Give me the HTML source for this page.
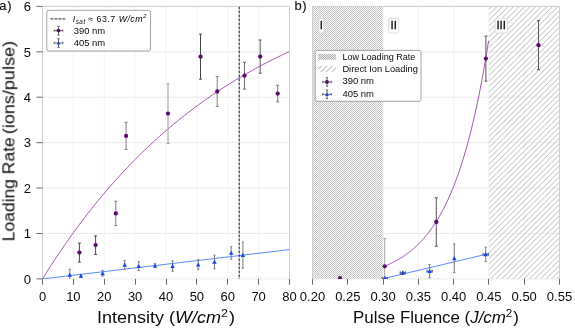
<!DOCTYPE html>
<html><head><meta charset="utf-8"><title>Loading rate</title>
<style>html,body{margin:0;padding:0;background:#fff;} body{width:575px;height:329px;overflow:hidden;} svg{display:block;} svg text{filter:url(#gs);}</style>
</head><body>
<svg width="575" height="329" viewBox="0 0 575 329">
<defs>
<filter id="gs" x="-5%" y="-20%" width="110%" height="140%"><feColorMatrix type="saturate" values="0"/></filter>
<pattern id="xh" patternUnits="userSpaceOnUse" width="2" height="2"><rect width="2" height="2" fill="#f8f8f8"/><rect width="1" height="1" fill="#c6c6c6"/><rect x="1" y="1" width="1" height="1" fill="#c6c6c6"/></pattern>
<pattern id="dh" patternUnits="userSpaceOnUse" width="5.54" height="5.54" x="-0.54" y="0"><path d="M-1,6.54 L6.54,-1 M-1,1 L1,-1 M4.54,6.54 L6.54,4.54" stroke="#a6a6a6" stroke-width="0.8" fill="none"/></pattern>
<pattern id="xh2" patternUnits="userSpaceOnUse" width="2" height="2"><rect width="2" height="2" fill="#eeeeee"/><rect width="1" height="1" fill="#ababab"/><rect x="1" y="1" width="1" height="1" fill="#ababab"/></pattern>
<pattern id="dh2" patternUnits="userSpaceOnUse" width="5.54" height="5.54" x="-0.54" y="0"><path d="M-1,6.54 L6.54,-1 M-1,1 L1,-1 M4.54,6.54 L6.54,4.54" stroke="#909090" stroke-width="0.85" fill="none"/></pattern>
<clipPath id="cl"><rect x="42.5" y="6.4" width="247.0" height="272.5"/></clipPath>
<clipPath id="cr"><rect x="312.5" y="6.4" width="247.0" height="272.5"/></clipPath>
</defs>
<rect width="575" height="329" fill="#ffffff"/>
<line x1="42.50" y1="6.4" x2="42.50" y2="278.9" stroke="#f3f3f3" stroke-width="1"/>
<line x1="73.38" y1="6.4" x2="73.38" y2="278.9" stroke="#f3f3f3" stroke-width="1"/>
<line x1="104.25" y1="6.4" x2="104.25" y2="278.9" stroke="#f3f3f3" stroke-width="1"/>
<line x1="135.12" y1="6.4" x2="135.12" y2="278.9" stroke="#f3f3f3" stroke-width="1"/>
<line x1="166.00" y1="6.4" x2="166.00" y2="278.9" stroke="#f3f3f3" stroke-width="1"/>
<line x1="196.88" y1="6.4" x2="196.88" y2="278.9" stroke="#f3f3f3" stroke-width="1"/>
<line x1="227.75" y1="6.4" x2="227.75" y2="278.9" stroke="#f3f3f3" stroke-width="1"/>
<line x1="258.62" y1="6.4" x2="258.62" y2="278.9" stroke="#f3f3f3" stroke-width="1"/>
<line x1="289.50" y1="6.4" x2="289.50" y2="278.9" stroke="#f3f3f3" stroke-width="1"/>
<line x1="42.5" y1="278.90" x2="289.5" y2="278.90" stroke="#ececec" stroke-width="1"/>
<line x1="42.5" y1="233.48" x2="289.5" y2="233.48" stroke="#ececec" stroke-width="1"/>
<line x1="42.5" y1="188.07" x2="289.5" y2="188.07" stroke="#ececec" stroke-width="1"/>
<line x1="42.5" y1="142.65" x2="289.5" y2="142.65" stroke="#ececec" stroke-width="1"/>
<line x1="42.5" y1="97.23" x2="289.5" y2="97.23" stroke="#ececec" stroke-width="1"/>
<line x1="42.5" y1="51.82" x2="289.5" y2="51.82" stroke="#ececec" stroke-width="1"/>
<line x1="42.5" y1="6.40" x2="289.5" y2="6.40" stroke="#ececec" stroke-width="1"/>
<g stroke="#ececec" stroke-width="1"><line x1="312.50" y1="6.4" x2="312.50" y2="278.9" stroke="#f3f3f3"/><line x1="347.79" y1="6.4" x2="347.79" y2="278.9" stroke="#f3f3f3"/><line x1="383.07" y1="6.4" x2="383.07" y2="278.9" stroke="#f3f3f3"/><line x1="418.36" y1="6.4" x2="418.36" y2="278.9" stroke="#f3f3f3"/><line x1="453.64" y1="6.4" x2="453.64" y2="278.9" stroke="#f3f3f3"/><line x1="488.93" y1="6.4" x2="488.93" y2="278.9" stroke="#f3f3f3"/><line x1="524.21" y1="6.4" x2="524.21" y2="278.9" stroke="#f3f3f3"/><line x1="559.50" y1="6.4" x2="559.50" y2="278.9" stroke="#f3f3f3"/><line x1="312.5" y1="278.90" x2="559.5" y2="278.90"/><line x1="312.5" y1="233.48" x2="559.5" y2="233.48"/><line x1="312.5" y1="188.07" x2="559.5" y2="188.07"/><line x1="312.5" y1="142.65" x2="559.5" y2="142.65"/><line x1="312.5" y1="97.23" x2="559.5" y2="97.23"/><line x1="312.5" y1="51.82" x2="559.5" y2="51.82"/><line x1="312.5" y1="6.40" x2="559.5" y2="6.40"/></g>
<rect x="312.50" y="6.4" width="70.57" height="272.50" fill="url(#xh)"/>
<rect x="488.93" y="6.4" width="70.57" height="272.50" fill="url(#dh)"/>
<g stroke="#ececec" stroke-width="1" opacity="0.35"><line x1="312.50" y1="6.4" x2="312.50" y2="278.9" stroke="#f3f3f3"/><line x1="347.79" y1="6.4" x2="347.79" y2="278.9" stroke="#f3f3f3"/><line x1="383.07" y1="6.4" x2="383.07" y2="278.9" stroke="#f3f3f3"/><line x1="418.36" y1="6.4" x2="418.36" y2="278.9" stroke="#f3f3f3"/><line x1="453.64" y1="6.4" x2="453.64" y2="278.9" stroke="#f3f3f3"/><line x1="488.93" y1="6.4" x2="488.93" y2="278.9" stroke="#f3f3f3"/><line x1="524.21" y1="6.4" x2="524.21" y2="278.9" stroke="#f3f3f3"/><line x1="559.50" y1="6.4" x2="559.50" y2="278.9" stroke="#f3f3f3"/><line x1="312.5" y1="278.90" x2="559.5" y2="278.90"/><line x1="312.5" y1="233.48" x2="559.5" y2="233.48"/><line x1="312.5" y1="188.07" x2="559.5" y2="188.07"/><line x1="312.5" y1="142.65" x2="559.5" y2="142.65"/><line x1="312.5" y1="97.23" x2="559.5" y2="97.23"/><line x1="312.5" y1="51.82" x2="559.5" y2="51.82"/><line x1="312.5" y1="6.40" x2="559.5" y2="6.40"/></g>
<path d="M42.5,278.9 L42.5,6.4 L289.5,6.4 L289.5,278.9" fill="none" stroke="#cfcfcf" stroke-width="1"/>
<path d="M312.5,278.9 L312.5,6.4 L559.5,6.4 L559.5,278.9" fill="none" stroke="#cfcfcf" stroke-width="1"/>
<line x1="42.50" y1="278.9" x2="42.50" y2="284.7" stroke="#6a6a6a" stroke-width="1"/>
<line x1="73.50" y1="278.9" x2="73.50" y2="284.7" stroke="#6a6a6a" stroke-width="1"/>
<line x1="104.50" y1="278.9" x2="104.50" y2="284.7" stroke="#6a6a6a" stroke-width="1"/>
<line x1="135.50" y1="278.9" x2="135.50" y2="284.7" stroke="#6a6a6a" stroke-width="1"/>
<line x1="166.50" y1="278.9" x2="166.50" y2="284.7" stroke="#6a6a6a" stroke-width="1"/>
<line x1="196.50" y1="278.9" x2="196.50" y2="284.7" stroke="#6a6a6a" stroke-width="1"/>
<line x1="227.50" y1="278.9" x2="227.50" y2="284.7" stroke="#6a6a6a" stroke-width="1"/>
<line x1="258.50" y1="278.9" x2="258.50" y2="284.7" stroke="#6a6a6a" stroke-width="1"/>
<line x1="289.50" y1="278.9" x2="289.50" y2="284.7" stroke="#6a6a6a" stroke-width="1"/>
<line x1="312.50" y1="278.9" x2="312.50" y2="284.7" stroke="#6a6a6a" stroke-width="1"/>
<line x1="347.50" y1="278.9" x2="347.50" y2="284.7" stroke="#6a6a6a" stroke-width="1"/>
<line x1="383.50" y1="278.9" x2="383.50" y2="284.7" stroke="#6a6a6a" stroke-width="1"/>
<line x1="418.50" y1="278.9" x2="418.50" y2="284.7" stroke="#6a6a6a" stroke-width="1"/>
<line x1="453.50" y1="278.9" x2="453.50" y2="284.7" stroke="#6a6a6a" stroke-width="1"/>
<line x1="488.50" y1="278.9" x2="488.50" y2="284.7" stroke="#6a6a6a" stroke-width="1"/>
<line x1="524.50" y1="278.9" x2="524.50" y2="284.7" stroke="#6a6a6a" stroke-width="1"/>
<line x1="559.50" y1="278.9" x2="559.50" y2="284.7" stroke="#6a6a6a" stroke-width="1"/>
<line x1="36.5" y1="278.90" x2="42.5" y2="278.90" stroke="#6a6a6a" stroke-width="1"/>
<line x1="36.5" y1="233.48" x2="42.5" y2="233.48" stroke="#6a6a6a" stroke-width="1"/>
<line x1="36.5" y1="188.07" x2="42.5" y2="188.07" stroke="#6a6a6a" stroke-width="1"/>
<line x1="36.5" y1="142.65" x2="42.5" y2="142.65" stroke="#6a6a6a" stroke-width="1"/>
<line x1="36.5" y1="97.23" x2="42.5" y2="97.23" stroke="#6a6a6a" stroke-width="1"/>
<line x1="36.5" y1="51.82" x2="42.5" y2="51.82" stroke="#6a6a6a" stroke-width="1"/>
<line x1="36.5" y1="6.40" x2="42.5" y2="6.40" stroke="#6a6a6a" stroke-width="1"/>
<g font-family='"Liberation Sans", sans-serif' font-size="13" fill="#0a0a0a" text-anchor="middle">
<text x="42.50" y="300.8">0</text>
<text x="73.38" y="300.8">10</text>
<text x="104.25" y="300.8">20</text>
<text x="135.12" y="300.8">30</text>
<text x="166.00" y="300.8">40</text>
<text x="196.88" y="300.8">50</text>
<text x="227.75" y="300.8">60</text>
<text x="258.62" y="300.8">70</text>
<text x="289.50" y="300.8">80</text>
<text x="312.50" y="300.8">0.20</text>
<text x="347.79" y="300.8">0.25</text>
<text x="383.07" y="300.8">0.30</text>
<text x="418.36" y="300.8">0.35</text>
<text x="453.64" y="300.8">0.40</text>
<text x="488.93" y="300.8">0.45</text>
<text x="524.21" y="300.8">0.50</text>
<text x="559.50" y="300.8">0.55</text>
</g>
<g font-family='"Liberation Sans", sans-serif' font-size="13" fill="#0a0a0a" text-anchor="end">
<text x="31" y="283.60">0</text>
<text x="31" y="238.18">1</text>
<text x="31" y="192.77">2</text>
<text x="31" y="147.35">3</text>
<text x="31" y="101.93">4</text>
<text x="31" y="56.52">5</text>
<text x="31" y="11.10">6</text>
</g>
<text x="166.00" y="322.8" font-family='"Liberation Sans", sans-serif' font-size="16" fill="#0a0a0a" text-anchor="middle" textLength="138.2" lengthAdjust="spacingAndGlyphs">Intensity (<tspan font-style="italic">W/cm</tspan><tspan font-size="11" dy="-6">2</tspan><tspan dy="6" dx="1">)</tspan></text>
<text x="436.00" y="322.8" font-family='"Liberation Sans", sans-serif' font-size="16" fill="#0a0a0a" text-anchor="middle" textLength="166" lengthAdjust="spacingAndGlyphs">Pulse Fluence (<tspan font-style="italic">J/cm</tspan><tspan font-size="11" dy="-6">2</tspan><tspan dy="6" dx="1">)</tspan></text>
<text transform="translate(14.4,241.3) rotate(-90)" font-family='"Liberation Sans", sans-serif' font-size="16" fill="#0a0a0a" textLength="104.0" lengthAdjust="spacingAndGlyphs">Loading Rate</text>
<text transform="translate(14.4,134.2) rotate(-90)" font-family='"Liberation Sans", sans-serif' font-size="16" fill="#0a0a0a" textLength="93.2" lengthAdjust="spacingAndGlyphs">(ions/pulse)</text>
<text x="-0.8" y="9.5" font-family='"Liberation Sans", sans-serif' font-size="13" fill="#0a0a0a" stroke="#0a0a0a" stroke-width="0.12" letter-spacing="0.7">a)</text>
<text x="294.4" y="9.7" font-family='"Liberation Sans", sans-serif' font-size="13" fill="#0a0a0a" stroke="#0a0a0a" stroke-width="0.12" letter-spacing="0.7">b)</text>
<g clip-path="url(#cl)">
<line x1="42.5" y1="278.9" x2="289.5" y2="249.6" stroke="#5284ff" stroke-width="0.95"/>
<polyline points="42.50,278.90 44.04,276.41 45.59,273.95 47.13,271.50 48.67,269.07 50.22,266.66 51.76,264.27 53.31,261.90 54.85,259.55 56.39,257.22 57.94,254.90 59.48,252.60 61.02,250.32 62.57,248.06 64.11,245.82 65.66,243.59 67.20,241.38 68.74,239.19 70.29,237.01 71.83,234.85 73.38,232.71 74.92,230.59 76.46,228.48 78.01,226.39 79.55,224.31 81.09,222.25 82.64,220.21 84.18,218.18 85.72,216.17 87.27,214.18 88.81,212.20 90.36,210.23 91.90,208.29 93.44,206.35 94.99,204.43 96.53,202.53 98.08,200.64 99.62,198.77 101.16,196.91 102.71,195.06 104.25,193.23 105.79,191.42 107.34,189.62 108.88,187.83 110.42,186.06 111.97,184.30 113.51,182.55 115.06,180.82 116.60,179.10 118.14,177.39 119.69,175.70 121.23,174.02 122.78,172.36 124.32,170.70 125.86,169.06 127.41,167.44 128.95,165.82 130.49,164.22 132.04,162.63 133.58,161.06 135.12,159.49 136.67,157.94 138.21,156.40 139.76,154.87 141.30,153.36 142.84,151.85 144.39,150.36 145.93,148.88 147.47,147.41 149.02,145.95 150.56,144.51 152.11,143.07 153.65,141.65 155.19,140.24 156.74,138.83 158.28,137.44 159.82,136.06 161.37,134.69 162.91,133.34 164.46,131.99 166.00,130.65 167.54,129.33 169.09,128.01 170.63,126.70 172.18,125.41 173.72,124.12 175.26,122.85 176.81,121.58 178.35,120.33 179.89,119.08 181.44,117.84 182.98,116.62 184.53,115.40 186.07,114.19 187.61,112.99 189.16,111.81 190.70,110.63 192.24,109.46 193.79,108.30 195.33,107.14 196.88,106.00 198.42,104.87 199.96,103.74 201.51,102.63 203.05,101.52 204.59,100.42 206.14,99.33 207.68,98.25 209.22,97.18 210.77,96.11 212.31,95.05 213.86,94.01 215.40,92.97 216.94,91.93 218.49,90.91 220.03,89.89 221.57,88.89 223.12,87.89 224.66,86.89 226.21,85.91 227.75,84.93 229.29,83.96 230.84,83.00 232.38,82.05 233.93,81.10 235.47,80.16 237.01,79.23 238.56,78.31 240.10,77.39 241.64,76.48 243.19,75.58 244.73,74.68 246.28,73.79 247.82,72.91 249.36,72.03 250.91,71.17 252.45,70.30 253.99,69.45 255.54,68.60 257.08,67.76 258.62,66.92 260.17,66.10 261.71,65.27 263.26,64.46 264.80,63.65 266.34,62.85 267.89,62.05 269.43,61.26 270.98,60.48 272.52,59.70 274.06,58.93 275.61,58.16 277.15,57.40 278.69,56.65 280.24,55.90 281.78,55.16 283.32,54.42 284.87,53.69 286.41,52.97 287.96,52.25 289.50,51.53" fill="none" stroke="#983fae" stroke-width="0.9"/>
<line x1="239.2" y1="6.4" x2="239.2" y2="278.9" stroke="#222" stroke-width="1.1" stroke-dasharray="2.9,1.1"/>
</g>
<g clip-path="url(#cl)">
<line x1="79.40" y1="243.10" x2="79.40" y2="262.10" stroke="#4a4a4a" stroke-width="1.0"/><line x1="77.90" y1="243.10" x2="80.90" y2="243.10" stroke="#4a4a4a" stroke-width="1.0"/><line x1="77.90" y1="262.10" x2="80.90" y2="262.10" stroke="#4a4a4a" stroke-width="1.0"/>
<line x1="95.60" y1="235.80" x2="95.60" y2="254.40" stroke="#4a4a4a" stroke-width="1.0"/><line x1="94.10" y1="235.80" x2="97.10" y2="235.80" stroke="#4a4a4a" stroke-width="1.0"/><line x1="94.10" y1="254.40" x2="97.10" y2="254.40" stroke="#4a4a4a" stroke-width="1.0"/>
<line x1="115.80" y1="201.20" x2="115.80" y2="225.60" stroke="#808080" stroke-width="1.0"/><line x1="114.30" y1="201.20" x2="117.30" y2="201.20" stroke="#808080" stroke-width="1.0"/><line x1="114.30" y1="225.60" x2="117.30" y2="225.60" stroke="#808080" stroke-width="1.0"/>
<line x1="126.10" y1="122.30" x2="126.10" y2="149.50" stroke="#808080" stroke-width="1.0"/><line x1="124.60" y1="122.30" x2="127.60" y2="122.30" stroke="#808080" stroke-width="1.0"/><line x1="124.60" y1="149.50" x2="127.60" y2="149.50" stroke="#808080" stroke-width="1.0"/>
<line x1="168.00" y1="83.80" x2="168.00" y2="143.40" stroke="#9a9a9a" stroke-width="1.0"/><line x1="166.50" y1="83.80" x2="169.50" y2="83.80" stroke="#9a9a9a" stroke-width="1.0"/><line x1="166.50" y1="143.40" x2="169.50" y2="143.40" stroke="#9a9a9a" stroke-width="1.0"/>
<line x1="200.50" y1="34.20" x2="200.50" y2="79.20" stroke="#474747" stroke-width="1.0"/><line x1="199.00" y1="34.20" x2="202.00" y2="34.20" stroke="#474747" stroke-width="1.0"/><line x1="199.00" y1="79.20" x2="202.00" y2="79.20" stroke="#474747" stroke-width="1.0"/>
<line x1="217.20" y1="76.60" x2="217.20" y2="106.40" stroke="#808080" stroke-width="1.0"/><line x1="215.70" y1="76.60" x2="218.70" y2="76.60" stroke="#808080" stroke-width="1.0"/><line x1="215.70" y1="106.40" x2="218.70" y2="106.40" stroke="#808080" stroke-width="1.0"/>
<line x1="244.50" y1="62.30" x2="244.50" y2="89.10" stroke="#6a6a6a" stroke-width="1.0"/><line x1="243.00" y1="62.30" x2="246.00" y2="62.30" stroke="#6a6a6a" stroke-width="1.0"/><line x1="243.00" y1="89.10" x2="246.00" y2="89.10" stroke="#6a6a6a" stroke-width="1.0"/>
<line x1="260.20" y1="40.00" x2="260.20" y2="73.20" stroke="#5a5a5a" stroke-width="1.0"/><line x1="258.70" y1="40.00" x2="261.70" y2="40.00" stroke="#5a5a5a" stroke-width="1.0"/><line x1="258.70" y1="73.20" x2="261.70" y2="73.20" stroke="#5a5a5a" stroke-width="1.0"/>
<line x1="277.70" y1="85.30" x2="277.70" y2="101.90" stroke="#787878" stroke-width="1.0"/><line x1="276.20" y1="85.30" x2="279.20" y2="85.30" stroke="#787878" stroke-width="1.0"/><line x1="276.20" y1="101.90" x2="279.20" y2="101.90" stroke="#787878" stroke-width="1.0"/>
<line x1="69.80" y1="269.30" x2="69.80" y2="280.50" stroke="#7c7c7c" stroke-width="1.0"/><line x1="68.70" y1="269.30" x2="70.90" y2="269.30" stroke="#7c7c7c" stroke-width="1.0"/><line x1="68.70" y1="280.50" x2="70.90" y2="280.50" stroke="#7c7c7c" stroke-width="1.0"/>
<line x1="80.90" y1="274.40" x2="80.90" y2="277.40" stroke="#7c7c7c" stroke-width="1.0"/><line x1="79.80" y1="274.40" x2="82.00" y2="274.40" stroke="#7c7c7c" stroke-width="1.0"/><line x1="79.80" y1="277.40" x2="82.00" y2="277.40" stroke="#7c7c7c" stroke-width="1.0"/>
<line x1="102.60" y1="270.60" x2="102.60" y2="276.20" stroke="#7c7c7c" stroke-width="1.0"/><line x1="101.50" y1="270.60" x2="103.70" y2="270.60" stroke="#7c7c7c" stroke-width="1.0"/><line x1="101.50" y1="276.20" x2="103.70" y2="276.20" stroke="#7c7c7c" stroke-width="1.0"/>
<line x1="124.70" y1="260.40" x2="124.70" y2="269.40" stroke="#7c7c7c" stroke-width="1.0"/><line x1="123.60" y1="260.40" x2="125.80" y2="260.40" stroke="#7c7c7c" stroke-width="1.0"/><line x1="123.60" y1="269.40" x2="125.80" y2="269.40" stroke="#7c7c7c" stroke-width="1.0"/>
<line x1="138.70" y1="261.70" x2="138.70" y2="270.50" stroke="#7c7c7c" stroke-width="1.0"/><line x1="137.60" y1="261.70" x2="139.80" y2="261.70" stroke="#7c7c7c" stroke-width="1.0"/><line x1="137.60" y1="270.50" x2="139.80" y2="270.50" stroke="#7c7c7c" stroke-width="1.0"/>
<line x1="155.00" y1="263.70" x2="155.00" y2="267.70" stroke="#7c7c7c" stroke-width="1.0"/><line x1="153.90" y1="263.70" x2="156.10" y2="263.70" stroke="#7c7c7c" stroke-width="1.0"/><line x1="153.90" y1="267.70" x2="156.10" y2="267.70" stroke="#7c7c7c" stroke-width="1.0"/>
<line x1="172.60" y1="260.90" x2="172.60" y2="271.30" stroke="#7c7c7c" stroke-width="1.0"/><line x1="171.50" y1="260.90" x2="173.70" y2="260.90" stroke="#7c7c7c" stroke-width="1.0"/><line x1="171.50" y1="271.30" x2="173.70" y2="271.30" stroke="#7c7c7c" stroke-width="1.0"/>
<line x1="198.20" y1="259.80" x2="198.20" y2="269.60" stroke="#7c7c7c" stroke-width="1.0"/><line x1="197.10" y1="259.80" x2="199.30" y2="259.80" stroke="#7c7c7c" stroke-width="1.0"/><line x1="197.10" y1="269.60" x2="199.30" y2="269.60" stroke="#7c7c7c" stroke-width="1.0"/>
<line x1="214.50" y1="255.10" x2="214.50" y2="268.70" stroke="#7c7c7c" stroke-width="1.0"/><line x1="213.40" y1="255.10" x2="215.60" y2="255.10" stroke="#7c7c7c" stroke-width="1.0"/><line x1="213.40" y1="268.70" x2="215.60" y2="268.70" stroke="#7c7c7c" stroke-width="1.0"/>
<line x1="231.20" y1="246.80" x2="231.20" y2="259.20" stroke="#7c7c7c" stroke-width="1.0"/><line x1="230.10" y1="246.80" x2="232.30" y2="246.80" stroke="#7c7c7c" stroke-width="1.0"/><line x1="230.10" y1="259.20" x2="232.30" y2="259.20" stroke="#7c7c7c" stroke-width="1.0"/>
<line x1="242.90" y1="242.10" x2="242.90" y2="268.10" stroke="#7c7c7c" stroke-width="1.0"/><line x1="241.80" y1="242.10" x2="244.00" y2="242.10" stroke="#7c7c7c" stroke-width="1.0"/><line x1="241.80" y1="268.10" x2="244.00" y2="268.10" stroke="#7c7c7c" stroke-width="1.0"/>
<circle cx="79.40" cy="252.60" r="2.15" fill="#5b0a6e"/>
<circle cx="95.60" cy="245.10" r="2.15" fill="#5b0a6e"/>
<circle cx="115.80" cy="213.40" r="2.15" fill="#5b0a6e"/>
<circle cx="126.10" cy="135.90" r="2.15" fill="#5b0a6e"/>
<circle cx="168.00" cy="113.60" r="2.15" fill="#5b0a6e"/>
<circle cx="200.50" cy="56.70" r="2.15" fill="#5b0a6e"/>
<circle cx="217.20" cy="91.50" r="2.15" fill="#5b0a6e"/>
<circle cx="244.50" cy="75.70" r="2.15" fill="#5b0a6e"/>
<circle cx="260.20" cy="56.60" r="2.15" fill="#5b0a6e"/>
<circle cx="277.70" cy="93.60" r="2.15" fill="#5b0a6e"/>
<path d="M69.80,272.60 L71.98,276.74 L67.61,276.74 Z" fill="#1444f0"/>
<path d="M80.90,273.60 L83.09,277.74 L78.72,277.74 Z" fill="#1444f0"/>
<path d="M102.60,271.10 L104.78,275.24 L100.41,275.24 Z" fill="#1444f0"/>
<path d="M124.70,262.60 L126.89,266.74 L122.52,266.74 Z" fill="#1444f0"/>
<path d="M138.70,263.80 L140.88,267.94 L136.51,267.94 Z" fill="#1444f0"/>
<path d="M155.00,263.40 L157.19,267.54 L152.81,267.54 Z" fill="#1444f0"/>
<path d="M172.60,263.80 L174.78,267.94 L170.41,267.94 Z" fill="#1444f0"/>
<path d="M198.20,262.40 L200.38,266.54 L196.01,266.54 Z" fill="#1444f0"/>
<path d="M214.50,259.60 L216.69,263.74 L212.31,263.74 Z" fill="#1444f0"/>
<path d="M231.20,250.70 L233.38,254.84 L229.01,254.84 Z" fill="#1444f0"/>
<path d="M242.90,252.80 L245.09,256.94 L240.72,256.94 Z" fill="#1444f0"/>
</g>
<g clip-path="url(#cr)">
<line x1="384.8" y1="278.3" x2="488.93" y2="253.6" stroke="#5284ff" stroke-width="0.95"/>
<polyline points="384.70,266.15 385.57,265.79 386.43,265.43 387.30,265.06 388.16,264.68 389.03,264.29 389.89,263.90 390.76,263.49 391.63,263.08 392.49,262.65 393.36,262.22 394.22,261.77 395.09,261.31 395.96,260.85 396.82,260.37 397.69,259.88 398.55,259.38 399.42,258.87 400.28,258.35 401.15,257.82 402.02,257.27 402.88,256.71 403.75,256.13 404.61,255.55 405.48,254.95 406.35,254.33 407.21,253.70 408.08,253.06 408.94,252.40 409.81,251.73 410.68,251.04 411.54,250.33 412.41,249.61 413.27,248.87 414.14,248.12 415.00,247.34 415.87,246.55 416.74,245.74 417.60,244.91 418.47,244.07 419.33,243.20 420.20,242.31 421.06,241.40 421.93,240.47 422.80,239.52 423.66,238.55 424.53,237.55 425.39,236.53 426.26,235.49 427.13,234.42 427.99,233.33 428.86,232.21 429.72,231.07 430.59,229.90 431.45,228.70 432.32,227.47 433.19,226.22 434.05,224.93 434.92,223.62 435.78,222.28 436.65,220.90 437.52,219.49 438.38,218.05 439.25,216.58 440.11,215.07 440.98,213.53 441.85,211.95 442.71,210.33 443.58,208.68 444.44,206.99 445.31,205.26 446.17,203.49 447.04,201.67 447.91,199.82 448.77,197.92 449.64,195.98 450.50,193.99 451.37,191.95 452.24,189.87 453.10,187.74 453.97,185.56 454.83,183.33 455.70,181.05 456.56,178.71 457.43,176.32 458.30,173.88 459.16,171.38 460.03,168.82 460.89,166.20 461.76,163.51 462.62,160.77 463.49,157.96 464.36,155.09 465.22,152.15 466.09,149.14 466.95,146.06 467.82,142.91 468.69,139.69 469.55,136.39 470.42,133.01 471.28,129.56 472.15,126.02 473.01,122.41 473.88,118.70 474.75,114.92 475.61,111.04 476.48,107.08 477.34,103.02 478.21,98.86 479.08,94.61 479.94,90.27 480.81,85.82 481.67,81.26 482.54,76.60 483.41,71.83 484.27,66.95 485.14,61.96 486.00,56.85 486.87,51.62 487.73,46.27 488.60,40.80" fill="none" stroke="#983fae" stroke-width="0.9"/>
<line x1="340.10" y1="276.60" x2="340.10" y2="280.60" stroke="#575757" stroke-width="1.0"/><line x1="338.60" y1="276.60" x2="341.60" y2="276.60" stroke="#575757" stroke-width="1.0"/><line x1="338.60" y1="280.60" x2="341.60" y2="280.60" stroke="#575757" stroke-width="1.0"/>
<line x1="384.70" y1="238.50" x2="384.70" y2="294.10" stroke="#a8a8a8" stroke-width="1.0"/><line x1="383.20" y1="238.50" x2="386.20" y2="238.50" stroke="#a8a8a8" stroke-width="1.0"/><line x1="383.20" y1="294.10" x2="386.20" y2="294.10" stroke="#a8a8a8" stroke-width="1.0"/>
<line x1="436.30" y1="197.80" x2="436.30" y2="246.20" stroke="#575757" stroke-width="1.0"/><line x1="434.80" y1="197.80" x2="437.80" y2="197.80" stroke="#575757" stroke-width="1.0"/><line x1="434.80" y1="246.20" x2="437.80" y2="246.20" stroke="#575757" stroke-width="1.0"/>
<line x1="485.90" y1="36.10" x2="485.90" y2="81.10" stroke="#575757" stroke-width="1.0"/><line x1="484.40" y1="36.10" x2="487.40" y2="36.10" stroke="#575757" stroke-width="1.0"/><line x1="484.40" y1="81.10" x2="487.40" y2="81.10" stroke="#575757" stroke-width="1.0"/>
<line x1="538.50" y1="20.70" x2="538.50" y2="69.70" stroke="#575757" stroke-width="1.0"/><line x1="537.00" y1="20.70" x2="540.00" y2="20.70" stroke="#575757" stroke-width="1.0"/><line x1="537.00" y1="69.70" x2="540.00" y2="69.70" stroke="#575757" stroke-width="1.0"/>
<line x1="384.80" y1="276.80" x2="384.80" y2="279.80" stroke="#7c7c7c" stroke-width="1.0"/><line x1="383.70" y1="276.80" x2="385.90" y2="276.80" stroke="#7c7c7c" stroke-width="1.0"/><line x1="383.70" y1="279.80" x2="385.90" y2="279.80" stroke="#7c7c7c" stroke-width="1.0"/>
<path d="M382.20,278.30 L387.40,278.30 M382.20,276.80 L382.20,279.80 M387.40,276.80 L387.40,279.80" stroke="#555" stroke-width="1" fill="none"/>
<line x1="402.80" y1="271.30" x2="402.80" y2="274.30" stroke="#7c7c7c" stroke-width="1.0"/><line x1="401.70" y1="271.30" x2="403.90" y2="271.30" stroke="#7c7c7c" stroke-width="1.0"/><line x1="401.70" y1="274.30" x2="403.90" y2="274.30" stroke="#7c7c7c" stroke-width="1.0"/>
<path d="M400.20,272.80 L405.40,272.80 M400.20,271.30 L400.20,274.30 M405.40,271.30 L405.40,274.30" stroke="#555" stroke-width="1" fill="none"/>
<line x1="429.60" y1="264.70" x2="429.60" y2="277.70" stroke="#7c7c7c" stroke-width="1.0"/><line x1="428.50" y1="264.70" x2="430.70" y2="264.70" stroke="#7c7c7c" stroke-width="1.0"/><line x1="428.50" y1="277.70" x2="430.70" y2="277.70" stroke="#7c7c7c" stroke-width="1.0"/>
<path d="M427.00,271.20 L432.20,271.20 M427.00,269.70 L427.00,272.70 M432.20,269.70 L432.20,272.70" stroke="#555" stroke-width="1" fill="none"/>
<line x1="454.30" y1="243.90" x2="454.30" y2="272.70" stroke="#7c7c7c" stroke-width="1.0"/><line x1="453.20" y1="243.90" x2="455.40" y2="243.90" stroke="#7c7c7c" stroke-width="1.0"/><line x1="453.20" y1="272.70" x2="455.40" y2="272.70" stroke="#7c7c7c" stroke-width="1.0"/>
<line x1="485.70" y1="247.20" x2="485.70" y2="261.60" stroke="#7c7c7c" stroke-width="1.0"/><line x1="484.60" y1="247.20" x2="486.80" y2="247.20" stroke="#7c7c7c" stroke-width="1.0"/><line x1="484.60" y1="261.60" x2="486.80" y2="261.60" stroke="#7c7c7c" stroke-width="1.0"/>
<path d="M483.10,254.40 L488.30,254.40 M483.10,252.90 L483.10,255.90 M488.30,252.90 L488.30,255.90" stroke="#555" stroke-width="1" fill="none"/>
<circle cx="340.10" cy="278.60" r="2.15" fill="#5b0a6e"/>
<circle cx="384.70" cy="266.30" r="2.15" fill="#5b0a6e"/>
<circle cx="436.30" cy="222.00" r="2.15" fill="#5b0a6e"/>
<circle cx="485.90" cy="58.60" r="2.15" fill="#5b0a6e"/>
<circle cx="538.50" cy="45.20" r="2.15" fill="#5b0a6e"/>
<path d="M384.80,276.00 L386.99,280.14 L382.62,280.14 Z" fill="#1444f0"/>
<path d="M402.80,270.50 L404.99,274.64 L400.62,274.64 Z" fill="#1444f0"/>
<path d="M429.60,268.90 L431.79,273.04 L427.42,273.04 Z" fill="#1444f0"/>
<path d="M454.30,256.00 L456.49,260.14 L452.12,260.14 Z" fill="#1444f0"/>
<path d="M485.70,252.10 L487.88,256.24 L483.51,256.24 Z" fill="#1444f0"/>
</g>
<rect x="318.8" y="18.4" width="5.10" height="14.6" rx="1.5" fill="#ffffff" stroke="#d2d2d2" stroke-width="0.8"/><text x="321.4" y="29.2" font-family='"Liberation Sans", sans-serif' font-size="11.5" fill="#0a0a0a" stroke="#0a0a0a" stroke-width="0.3" text-anchor="middle">I</text>
<rect x="388.7" y="18.4" width="10.00" height="14.6" rx="1.5" fill="#ffffff" stroke="#d2d2d2" stroke-width="0.8"/><text x="393.7" y="29.2" font-family='"Liberation Sans", sans-serif' font-size="11.5" fill="#0a0a0a" stroke="#0a0a0a" stroke-width="0.3" text-anchor="middle">II</text>
<rect x="495.0" y="18.4" width="12.30" height="14.6" rx="1.5" fill="#ffffff" stroke="#d2d2d2" stroke-width="0.8"/><text x="501.2" y="29.2" font-family='"Liberation Sans", sans-serif' font-size="11.5" fill="#0a0a0a" stroke="#0a0a0a" stroke-width="0.3" text-anchor="middle">III</text>
<rect x="46.8" y="10.3" width="103.70" height="40.70" rx="2" fill="#ffffff" fill-opacity="0.94" stroke="#9a9a9a" stroke-width="0.9"/>
<line x1="50.4" y1="18.9" x2="65.4" y2="18.9" stroke="#222" stroke-width="1" stroke-dasharray="2.9,1.1"/>
<line x1="58.50" y1="26.30" x2="58.50" y2="34.90" stroke="#575757" stroke-width="0.9"/><line x1="57.30" y1="26.30" x2="59.70" y2="26.30" stroke="#575757" stroke-width="0.9"/><line x1="57.30" y1="34.90" x2="59.70" y2="34.90" stroke="#575757" stroke-width="0.9"/><line x1="54.20" y1="30.60" x2="62.80" y2="30.60" stroke="#575757" stroke-width="0.9"/><line x1="54.20" y1="29.40" x2="54.20" y2="31.80" stroke="#575757" stroke-width="0.9"/><line x1="62.80" y1="29.40" x2="62.80" y2="31.80" stroke="#575757" stroke-width="0.9"/><circle cx="58.50" cy="30.60" r="1.95" fill="#5b0a6e"/>
<line x1="58.50" y1="38.70" x2="58.50" y2="47.30" stroke="#575757" stroke-width="0.9"/><line x1="57.30" y1="38.70" x2="59.70" y2="38.70" stroke="#575757" stroke-width="0.9"/><line x1="57.30" y1="47.30" x2="59.70" y2="47.30" stroke="#575757" stroke-width="0.9"/><line x1="54.20" y1="43.00" x2="62.80" y2="43.00" stroke="#575757" stroke-width="0.9"/><line x1="54.20" y1="41.80" x2="54.20" y2="44.20" stroke="#575757" stroke-width="0.9"/><line x1="62.80" y1="41.80" x2="62.80" y2="44.20" stroke="#575757" stroke-width="0.9"/><path d="M58.50,41.00 L60.40,44.60 L56.60,44.60 Z" fill="#1444f0"/>
<text x="72.7" y="21.8" font-family='"Liberation Sans", sans-serif' font-size="8.8" fill="#0a0a0a" letter-spacing="0.5"><tspan font-style="italic">I</tspan><tspan font-size="6.4" font-style="italic" dy="1.7">sat</tspan><tspan dy="-1.7" dx="2.6">≈ 63.7 </tspan><tspan font-style="italic">W/cm</tspan><tspan font-style="italic" font-size="6.2" dy="-3.6">2</tspan></text>
<text x="73.7" y="34.2" font-family='"Liberation Sans", sans-serif' font-size="8.8" fill="#0a0a0a" textLength="31.5" lengthAdjust="spacingAndGlyphs">390 nm</text>
<text x="73.7" y="46.4" font-family='"Liberation Sans", sans-serif' font-size="8.8" fill="#0a0a0a" textLength="31.5" lengthAdjust="spacingAndGlyphs">405 nm</text>
<rect x="315.2" y="50.4" width="105.80" height="50.90" rx="2" fill="#ffffff" fill-opacity="0.94" stroke="#9a9a9a" stroke-width="0.9"/>
<rect x="318.2" y="53.9" width="17.7" height="5.9" fill="url(#xh2)"/>
<rect x="318.2" y="65.9" width="17.7" height="5.9" fill="url(#dh2)"/>
<line x1="327.00" y1="77.70" x2="327.00" y2="86.30" stroke="#575757" stroke-width="0.9"/><line x1="325.80" y1="77.70" x2="328.20" y2="77.70" stroke="#575757" stroke-width="0.9"/><line x1="325.80" y1="86.30" x2="328.20" y2="86.30" stroke="#575757" stroke-width="0.9"/><line x1="322.70" y1="82.00" x2="331.30" y2="82.00" stroke="#575757" stroke-width="0.9"/><line x1="322.70" y1="80.80" x2="322.70" y2="83.20" stroke="#575757" stroke-width="0.9"/><line x1="331.30" y1="80.80" x2="331.30" y2="83.20" stroke="#575757" stroke-width="0.9"/><circle cx="327.00" cy="82.00" r="1.95" fill="#5b0a6e"/>
<line x1="327.00" y1="90.00" x2="327.00" y2="98.60" stroke="#575757" stroke-width="0.9"/><line x1="325.80" y1="90.00" x2="328.20" y2="90.00" stroke="#575757" stroke-width="0.9"/><line x1="325.80" y1="98.60" x2="328.20" y2="98.60" stroke="#575757" stroke-width="0.9"/><line x1="322.70" y1="94.30" x2="331.30" y2="94.30" stroke="#575757" stroke-width="0.9"/><line x1="322.70" y1="93.10" x2="322.70" y2="95.50" stroke="#575757" stroke-width="0.9"/><line x1="331.30" y1="93.10" x2="331.30" y2="95.50" stroke="#575757" stroke-width="0.9"/><path d="M327.00,92.30 L328.90,95.90 L325.10,95.90 Z" fill="#1444f0"/>
<text x="342.4" y="59.9" font-family='"Liberation Sans", sans-serif' font-size="8.8" fill="#0a0a0a" textLength="73" lengthAdjust="spacingAndGlyphs">Low Loading Rate</text>
<text x="342.4" y="72.0" font-family='"Liberation Sans", sans-serif' font-size="8.8" fill="#0a0a0a" textLength="75.5" lengthAdjust="spacingAndGlyphs">Direct Ion Loading</text>
<text x="342.4" y="84.3" font-family='"Liberation Sans", sans-serif' font-size="8.8" fill="#0a0a0a" textLength="31.5" lengthAdjust="spacingAndGlyphs">390 nm</text>
<text x="342.4" y="96.5" font-family='"Liberation Sans", sans-serif' font-size="8.8" fill="#0a0a0a" textLength="31.5" lengthAdjust="spacingAndGlyphs">405 nm</text>
</svg>
</body></html>
